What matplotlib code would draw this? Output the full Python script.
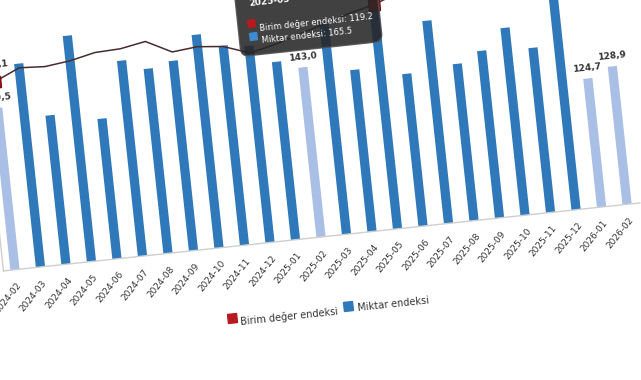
import numpy as np
import matplotlib.pyplot as plt
from matplotlib.transforms import Affine2D, ScaledTranslation
from matplotlib.patches import FancyBboxPatch
from matplotlib.markers import MarkerStyle

# data
months = ["2024-02", "2024-03", "2024-04", "2024-05", "2024-06", "2024-07",
          "2024-08", "2024-09", "2024-10", "2024-11", "2024-12", "2025-01",
          "2025-02", "2025-03", "2025-04", "2025-05", "2025-06", "2025-07",
          "2025-08", "2025-09", "2025-10", "2025-11", "2025-12", "2026-01",
          "2026-02"]
miktar = [139.5, 158.0, 133.8, 168.0, 129.9, 154.5, 149.7, 152.0, 162.4,
          156.3, 155.0, 146.7, 143.0, 162.0, 139.5, 165.5, 135.3, 157.7,
          137.3, 141.9, 150.9, 140.8, 172.0, 124.7, 128.9]
birim = [112.1, 114.3, 114.0, 114.6, 115.7, 115.9, 116.8, 114.2, 114.7,
         114.2, 112.4, 113.5, 115.0, 116.5, 118.0, 119.2, 121.0, 120.5,
         121.5, 122.5, 123.0, 122.0, 124.0, 125.0, 126.0]
light_months = ["2024-02", "2025-02", "2026-01", "2026-02"]
hover = "2025-05"

W, H = 641, 380
fig = plt.figure(figsize=(W / 100, H / 100), dpi=100)

# the screenshot is tilted, so everything gets rotated around a pivot (px)
ang = 6.1
px0, py0 = 321, 143
step = 25.65
x_lo, x_hi = -0.45, 24.5
ax_left = px0 + (x_lo - 12) * step
ax_w = (x_hi - x_lo) * step
ax_h = 260
ax = fig.add_axes([ax_left / W, py0 / H, ax_w / W, ax_h / H])
ax2 = ax.twinx()
rot = Affine2D().rotate_deg_around(px0, py0, ang)

y0 = 67.5
y1 = y0 + ax_h / 2.26
r0 = 75.1
r1 = r0 + ax_h / 5.11

dark_blue = "#2f78b9"
light_blue = "#a9bfe6"
red = "#b81820"

x = np.arange(len(months))
cols = [light_blue if m in light_months else dark_blue for m in months]
bars = ax.bar(x, np.array(miktar) - y0, bottom=y0, width=0.36, color=cols)
for p in bars.patches:
    p.set_transform(ax.transData + rot)
    p.set_clip_on(False)

# axis lines
base = ax.axhline(y0, color="#cfcfcf", lw=1)
base.set_transform(base.get_transform() + rot)
base.set_clip_on(False)
side = ax.axvline(x_lo, color="#cfcfcf", lw=1)
side.set_transform(side.get_transform() + rot)
side.set_clip_on(False)

# line on right axis
ln, = ax2.plot(x, birim, color="#4a2b2b", lw=1.1)
ln.set_transform(ax2.transData + rot)
ln.set_clip_on(False)

sq = MarkerStyle("s", transform=Affine2D().rotate_deg(ang))
idx = [months.index("2024-02"), months.index(hover)]
ax2.plot(x[idx], np.array(birim)[idx], ls="none", marker=sq, ms=8,
         color=red, mec="#7a0d12", transform=ax2.transData + rot, clip_on=False)

# x tick labels
lab_tr = ax.get_xaxis_transform() + ScaledTranslation(0, -8 / 72, fig.dpi_scale_trans) + rot
for i, m in enumerate(months):
    ax.text(i, 0, m, transform=lab_tr, rotation=45 + ang,
            ha="right", va="top", rotation_mode="anchor", fontsize=6.5, color="#333333")

# value labels
bar_tr = ax.transData + ScaledTranslation(0, 3 / 72, fig.dpi_scale_trans) + rot
for i, m in enumerate(months):
    if m in light_months:
        ax.text(i, miktar[i], f"{miktar[i]:.1f}".replace(".", ","), transform=bar_tr,
                rotation=ang, ha="center", va="bottom",
                fontsize=6.5, fontweight="bold", color="#333333")
line_tr = ax2.transData + ScaledTranslation(0, 8 / 72, fig.dpi_scale_trans) + rot
ax2.text(0, birim[0], f"{birim[0]:.1f}".replace(".", ","), transform=line_tr,
         rotation=ang, ha="center", va="bottom",
         fontsize=6.5, fontweight="bold", color="#333333")

# legend
leg_tr = ax.transAxes + rot
ax.plot([0.347], [-0.273], ls="none", marker=sq, ms=7, color=red,
        transform=leg_tr, clip_on=False)
ax.text(0.36, -0.273, "Birim değer endeksi", transform=leg_tr,
        rotation=ang, ha="left", va="center", fontsize=7, color="#333333")
ax.plot([0.529], [-0.273], ls="none", marker=sq, ms=7, color=dark_blue,
        transform=leg_tr, clip_on=False)
ax.text(0.544, -0.273, "Miktar endeksi", transform=leg_tr,
        rotation=ang, ha="left", va="center", fontsize=7, color="#333333")

# tooltip
hi = months.index(hover)
tip_tr = ax.transAxes + rot
tip = FancyBboxPatch((0.405, 0.723), 0.222, 0.35,
                     boxstyle="round,pad=0,rounding_size=0.012", mutation_aspect=ax_w / ax_h,
                     transform=tip_tr, fc="#262626", ec="#505050",
                     alpha=0.88, zorder=10, clip_on=False)
ax2.add_patch(tip)
ax2.text(0.425, 0.93, hover, transform=tip_tr, rotation=ang,
         ha="left", va="center", fontsize=6.5, fontweight="bold", color="white", zorder=11)
ax2.plot([0.426], [0.846], ls="none", marker=sq, ms=5.5, color=red,
         transform=tip_tr, clip_on=False, zorder=11)
ax2.text(0.439, 0.846, f"Birim değer endeksi: {birim[hi]}", transform=tip_tr,
         rotation=ang, ha="left", va="center", fontsize=6,
         color="white", zorder=11)
ax2.plot([0.426], [0.796], ls="none", marker=sq, ms=5.5, color="#3d8bd0",
         transform=tip_tr, clip_on=False, zorder=11)
ax2.text(0.439, 0.796, f"Miktar endeksi: {miktar[hi]}", transform=tip_tr,
         rotation=ang, ha="left", va="center", fontsize=6,
         color="white", zorder=11)

ax.set_xlim(x_lo, x_hi)
ax.set_ylim(y0, y1)
ax2.set_ylim(r0, r1)
ax.set_axis_off()
ax2.set_axis_off()

fig.savefig("out.png", dpi=100)
